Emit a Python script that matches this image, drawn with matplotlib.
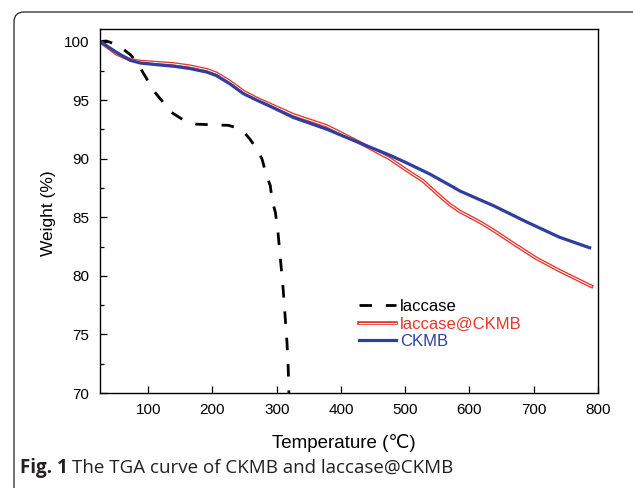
import matplotlib
matplotlib.use("Agg")
import matplotlib.pyplot as plt
import matplotlib.patheffects as pe
from matplotlib.patches import FancyBboxPatch
from matplotlib.ticker import MultipleLocator

# TGA data
lac_t = [25, 35, 48, 60, 73, 86, 99, 110, 122, 135, 155, 175, 200, 225, 240, 250, 258,
         268, 277, 284, 290, 293, 298, 302, 306, 310, 313, 316, 318, 319]
lac_w = [100.0, 100.05, 99.8, 99.4, 98.85, 97.9, 96.7, 95.7, 94.9, 94.0, 93.3, 92.95, 92.9,
         92.85, 92.6, 92.2, 91.7, 90.9, 90.0, 88.6, 87.7, 86.4, 85.4, 83.7, 81.3, 78.9,
         76.6, 74.3, 72.0, 70.0]

lc_t = [25, 35, 51, 72, 88, 113, 139, 165, 191, 206, 227, 248, 269, 326, 378, 429, 476,
        500, 528, 550, 569, 585, 616, 637, 670, 704, 740, 790]
lc_w = [100.0, 99.6, 98.95, 98.45, 98.3, 98.2, 98.1, 97.9, 97.6, 97.3, 96.6, 95.75, 95.15,
        93.75, 92.8, 91.38, 90.0, 89.1, 88.1, 87.0, 86.1, 85.5, 84.6, 83.9, 82.7, 81.5,
        80.45, 79.1]

ck_t = [25, 35, 51, 72, 88, 113, 139, 165, 191, 206, 227, 248, 269, 289, 326, 378, 429,
        476, 500, 538, 574, 585, 616, 637, 689, 740, 787]
ck_w = [100.0, 99.65, 99.07, 98.4, 98.17, 98.03, 97.9, 97.7, 97.4, 97.1, 96.4, 95.56, 95.0,
        94.5, 93.52, 92.52, 91.35, 90.3, 89.7, 88.7, 87.6, 87.25, 86.5, 86.0, 84.6, 83.3,
        82.4]

labels = ["laccase", "laccase@CKMB", "CKMB"]
red = "#e8352c"
blue = "#2f3f9e"

plt.rcParams["font.family"] = ["Liberation Sans", "DejaVu Sans"]

fig = plt.figure(figsize=(6.33, 4.88), dpi=100)
ax = fig.add_axes([100 / 633, 95 / 488, 498 / 633, 363.7 / 488])

ax.plot(lac_t, lac_w, color="black", lw=2.0, dashes=(4.5, 5), label=labels[0])
ax.plot(lc_t, lc_w, color="white", lw=0.7, label=labels[1],
        path_effects=[pe.Stroke(linewidth=2.6, foreground=red), pe.Normal()])
ax.plot(ck_t, ck_w, color=blue, lw=2.3, label=labels[2])

ax.set_xlim(25, 800)
ax.set_ylim(70, 101.05)
ax.xaxis.set_major_locator(MultipleLocator(100))
ax.yaxis.set_major_locator(MultipleLocator(5))
ax.yaxis.set_minor_locator(MultipleLocator(2.5))
ax.tick_params(axis="both", which="major", direction="in", length=5, width=0.9,
               labelsize=11, top=False, right=False)
ax.tick_params(axis="x", which="major", pad=7)
ax.tick_params(axis="y", which="major", pad=7.5)
ax.tick_params(axis="y", which="minor", direction="in", length=3, width=0.9, right=False)
for s in ax.spines.values():
    s.set_linewidth(1.0)

ax.set_xlabel("Temperature (℃)", fontsize=13.5)
ax.set_ylabel("Weight (%)", fontsize=12.5)
ax.xaxis.set_label_coords(0.49, -0.112)
ax.yaxis.set_label_coords(-0.088, 0.495)

leg = ax.legend(loc="upper left", bbox_to_anchor=(0.52, 0.258), frameon=False,
                fontsize=12, handlelength=2.2, handletextpad=0.25, labelspacing=0.15,
                borderpad=0, borderaxespad=0)
for txt, c in zip(leg.get_texts(), ["black", red, blue]):
    txt.set_color(c)

# rounded frame around the figure panel
frame = FancyBboxPatch((0.14, -0.3), 6.6, 5.06, boxstyle="round,pad=0,rounding_size=0.1",
                       transform=fig.dpi_scale_trans, fill=False, edgecolor="#222222",
                       lw=0.9)
fig.add_artist(frame)

# caption
cap_font = ["Open Sans", "DejaVu Sans"]
t1 = fig.text(20 / 633, 15 / 488, "Fig. 1", fontsize=13.5, fontweight="bold",
              family=cap_font, va="baseline", color="#231f20")
fig.canvas.draw()
bb = t1.get_window_extent()
fig.text((bb.x1 + 4) / 633, 15 / 488, "The TGA curve of CKMB and laccase@CKMB",
         fontsize=13.5, family=cap_font, va="baseline", color="#231f20")

fig.savefig("out.png", dpi=100)
